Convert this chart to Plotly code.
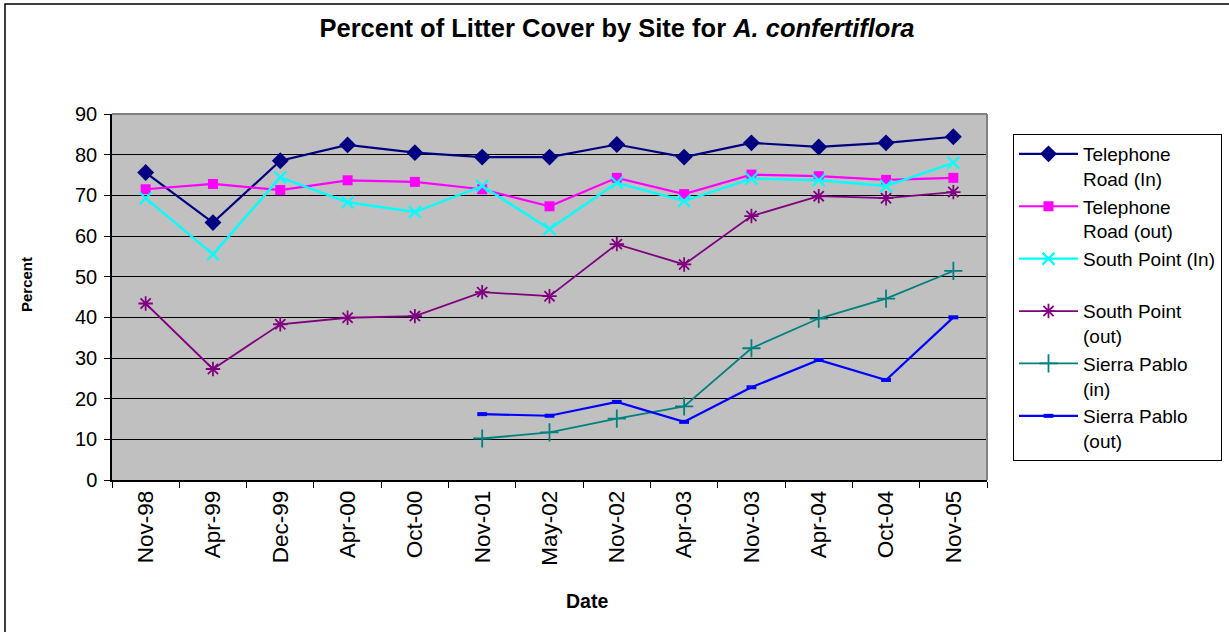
import plotly.graph_objects as go

# Sampling dates (category axis)
dates = ["Nov-98", "Apr-99", "Dec-99", "Apr-00", "Oct-00", "Nov-01", "May-02",
         "Nov-02", "Apr-03", "Nov-03", "Apr-04", "Oct-04", "Nov-05"]

# Percent litter cover per site
telephone_in = [75.6, 63.3, 78.5, 82.4, 80.5, 79.4, 79.4, 82.5, 79.4, 82.9, 81.9, 82.9, 84.4]
telephone_out = [71.5, 72.8, 71.3, 73.7, 73.3, 71.5, 67.3, 74.3, 70.3, 75.1, 74.7, 73.8, 74.3]
south_point_in = [69.3, 55.5, 74.4, 68.3, 65.9, 72.3, 61.7, 73.1, 68.6, 74.1, 73.7, 72.3, 78.0]
south_point_out = [43.4, 27.3, 38.3, 39.9, 40.3, 46.2, 45.2, 58.0, 53.0, 64.9, 69.8, 69.3, 70.8]
sierra_pablo_in = [None, None, None, None, None, 10.2, 11.7, 15.1, 18.1, 32.4, 39.7, 44.6, 51.4]
sierra_pablo_out = [None, None, None, None, None, 16.2, 15.8, 19.2, 14.3, 22.8, 29.5, 24.6, 40.0]

series = [
    ("Telephone<br>Road (In)", telephone_in, "#000080", "diamond", 13, 2.2, 0),
    ("Telephone<br>Road (out)", telephone_out, "#FF00FF", "square", 10, 2.2, 0),
    ("South Point (In)<br>&nbsp;", south_point_in, "#00FFFF", "x-thin-open", 12, 2.4, 2.2),
    ("South Point<br>(out)", south_point_out, "#800080", "asterisk-open", 12, 1.8, 1.8),
    ("Sierra Pablo<br>(in)", sierra_pablo_in, "#008080", "cross-thin-open", 13, 1.8, 1.8),
    ("Sierra Pablo<br>(out)", sierra_pablo_out, "#0000FF", "line-ew-open", 7, 2.2, 4),
]

fig = go.Figure()
for name, vals, color, symbol, size, lw, mlw in series:
    fig.add_trace(go.Scatter(
        x=dates, y=vals, name=name, mode="lines+markers",
        line=dict(color=color, width=lw),
        marker=dict(symbol=symbol, size=size, color=color,
                    line=dict(color=color, width=mlw)),
        connectgaps=False,
    ))

W, H = 1229, 632
L, R, T, B = 112, 987, 114, 480   # plot-area pixel edges


def px(xp):
    return (xp - L) / (R - L)


def py(yp):
    return (B - yp) / (B - T)


fig.update_layout(
    width=W, height=H,
    margin=dict(l=L, r=W - R, t=T, b=H - B, pad=0, autoexpand=False),
    paper_bgcolor="white",
    plot_bgcolor="#C0C0C0",
    font=dict(family="Liberation Sans, Arial, sans-serif", color="black"),
    title=dict(
        text="<b>Percent of Litter Cover by Site for <i>A. confertiflora</i></b>",
        x=617 / W, xref="container", xanchor="center",
        y=1 - 28 / H, yref="container", yanchor="middle",
        font=dict(size=25.5, color="black"),
    ),
    xaxis=dict(
        type="category", categoryorder="array", categoryarray=dates,
        tickangle=-90, tickfont=dict(size=22.5),
        ticks="outside", tickson="boundaries", ticklen=6, tickcolor="black", tickwidth=1,
        showline=True, linecolor="black", linewidth=1.5,
        showgrid=False, zeroline=False,
        range=[-0.5, len(dates) - 0.5],
    ),
    yaxis=dict(
        range=[0, 90], dtick=10, tickfont=dict(size=20),
        ticks="outside", ticklen=6, tickcolor="black", tickwidth=1,
        ticklabelstandoff=3,
        showline=True, linecolor="black", linewidth=1.5,
        showgrid=True, gridcolor="black", gridwidth=1,
        zeroline=False,
    ),
    legend=dict(
        x=px(1013), y=py(134), xanchor="left", yanchor="top",
        bordercolor="black", borderwidth=1, bgcolor="white",
        font=dict(size=19), valign="top",
        itemwidth=59, tracegroupgap=0,
    ),
    showlegend=True,
    annotations=[
        dict(text="<b>Percent</b>", xref="paper", yref="paper",
             x=px(26), y=py(285), xanchor="center", yanchor="middle",
             textangle=-90, showarrow=False, font=dict(size=15)),
        dict(text="<b>Date</b>", xref="paper", yref="paper",
             x=px(587), y=py(601), xanchor="center", yanchor="middle",
             showarrow=False, font=dict(size=19.5)),
    ],
    shapes=[
        # grey plot-area edge on the top and right
        dict(type="line", xref="paper", yref="paper", x0=0, x1=1, y0=1, y1=1,
             line=dict(color="#808080", width=2), layer="above"),
        dict(type="line", xref="paper", yref="paper", x0=1, x1=1, y0=0, y1=1,
             line=dict(color="#808080", width=2), layer="above"),
        # outer chart frame
        dict(type="path", xref="paper", yref="paper",
             path=f"M {px(5)},{py(H + 10)} L {px(5)},{py(4)} L {px(W + 10)},{py(4)}",
             line=dict(color="black", width=1.5)),
    ],
)

fig.write_html("out.html")
